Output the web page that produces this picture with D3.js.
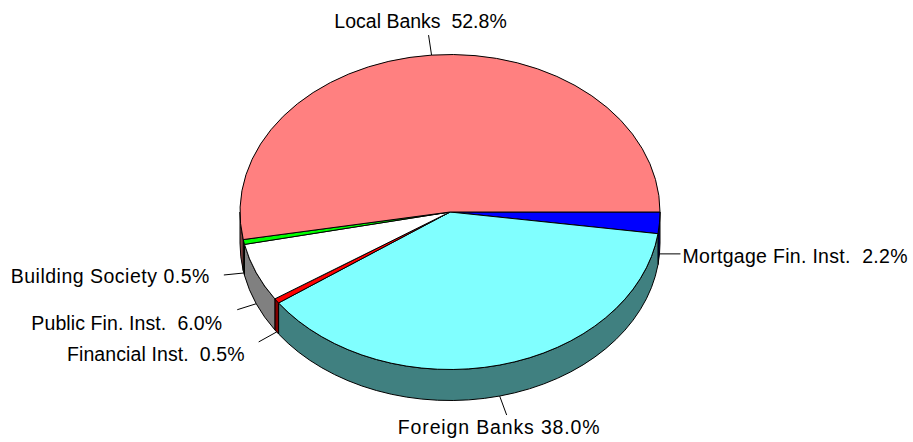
<!DOCTYPE html>
<html>
<head>
<meta charset="utf-8">
<script src="https://cdn.jsdelivr.net/npm/d3@7/dist/d3.min.js"></script>
<style>
  body { margin: 0; background: #fff; }
  text { font-family: "Liberation Sans", Arial, sans-serif; font-size: 19.5px; fill: #000; white-space: pre; }
</style>
</head>
<body>
<svg id="chart" width="913" height="442"></svg>
<script>
// data (clockwise from 3 o'clock)
var names  = ['Mortgage Fin. Inst.', 'Foreign Banks', 'Financial Inst.', 'Public Fin. Inst.', 'Building Society', 'Local Banks'];
var shares = [2.2, 38.0, 0.5, 6.0, 0.5, 52.8];
var topColors  = ['#0000ff', '#80ffff', '#ff0000', '#ffffff', '#00ff00', '#ff8080'];
var sideColors = ['#000080', '#408080', '#800000', '#808080', '#008000', '#804040'];

// label layout: leader offset from pie edge, text offset from leader end
var labelLayout = [
  { gap: '  ', ldx: 21,  ldy: 0,   tdx: 2,    tdy: 9,  anchor: 'start',  ls: 0.3 },
  { gap: ' ',  ldx: 7,   ldy: 19,  tdx: -7.5, tdy: 19, anchor: 'middle', ls: 0.85 },
  { gap: '  ', ldx: -18, ldy: 10,  tdx: -14,  tdy: 19, anchor: 'end',    ls: 0.1 },
  { gap: '  ', ldx: -19, ldy: 6,   tdx: -15,  tdy: 20, anchor: 'end',    ls: 0.1 },
  { gap: ' ',  ldx: -20, ldy: 2,   tdx: -14,  tdy: 8,  anchor: 'end',    ls: 0.5 },
  { gap: '  ', ldx: -3,  ldy: -20, tdx: -8,   tdy: -7, anchor: 'middle', ls: 0 }
];

var cx = 450, cy = 212, rx = 210, ry = 157.5, depth = 31;

var svg = d3.select('#chart');

var pie = d3.pie().sort(null)
  .startAngle(Math.PI / 2)
  .endAngle(Math.PI / 2 + 2 * Math.PI)
  .value(function(d) { return d; });
var slices = pie(shares);

function pt(a, dy) {
  return [cx + rx * Math.sin(a), cy - ry * Math.cos(a) + (dy || 0)];
}

// side walls (front half only: angles PI/2 .. 3PI/2)
var walls = svg.append('g');
slices.forEach(function(s, i) {
  var b0 = Math.max(s.startAngle, Math.PI / 2);
  var b1 = Math.min(s.endAngle, 3 * Math.PI / 2);
  if (b1 <= b0) return;
  var p0 = pt(b0), p1 = pt(b1), q1 = pt(b1, depth), q0 = pt(b0, depth);
  var d = 'M' + p0 + 'A' + rx + ',' + ry + ' 0 0 1 ' + p1 +
          'L' + q1 + 'A' + rx + ',' + ry + ' 0 0 0 ' + q0 + 'Z';
  walls.append('path')
    .attr('d', d)
    .attr('fill', sideColors[i])
    .attr('stroke', '#000')
    .attr('stroke-width', 1)
    .attr('stroke-linejoin', 'round');
});

// top faces
var arc = d3.arc().innerRadius(0).outerRadius(rx);
svg.append('g')
  .attr('transform', 'translate(' + cx + ',' + cy + ') scale(1,' + (ry / rx) + ')')
  .selectAll('path')
  .data(slices)
  .enter()
    .append('path')
    .attr('d', arc)
    .attr('fill', function(d, i) { return topColors[i]; })
    .attr('stroke', '#000')
    .attr('stroke-width', 1)
    .attr('vector-effect', 'non-scaling-stroke')
    .attr('stroke-linejoin', 'round');

// labels + leader lines
var lbl = svg.append('g');
slices.forEach(function(s, i) {
  var mid = (s.startAngle + s.endAngle) / 2;
  var m = ((mid % (2 * Math.PI)) + 2 * Math.PI) % (2 * Math.PI);
  var front = m > Math.PI / 2 && m < 3 * Math.PI / 2;
  var p = pt(mid, front ? depth : 0);
  var L = labelLayout[i];
  var e = [p[0] + L.ldx, p[1] + L.ldy];
  lbl.append('line')
    .attr('x1', p[0]).attr('y1', p[1])
    .attr('x2', e[0]).attr('y2', e[1])
    .attr('stroke', '#000')
    .attr('stroke-width', 1);
  lbl.append('text')
    .attr('x', e[0] + L.tdx)
    .attr('y', e[1] + L.tdy)
    .attr('text-anchor', L.anchor)
    .attr('letter-spacing', L.ls)
    .text(names[i] + L.gap + shares[i].toFixed(1) + '%');
});
</script>
</body>
</html>
